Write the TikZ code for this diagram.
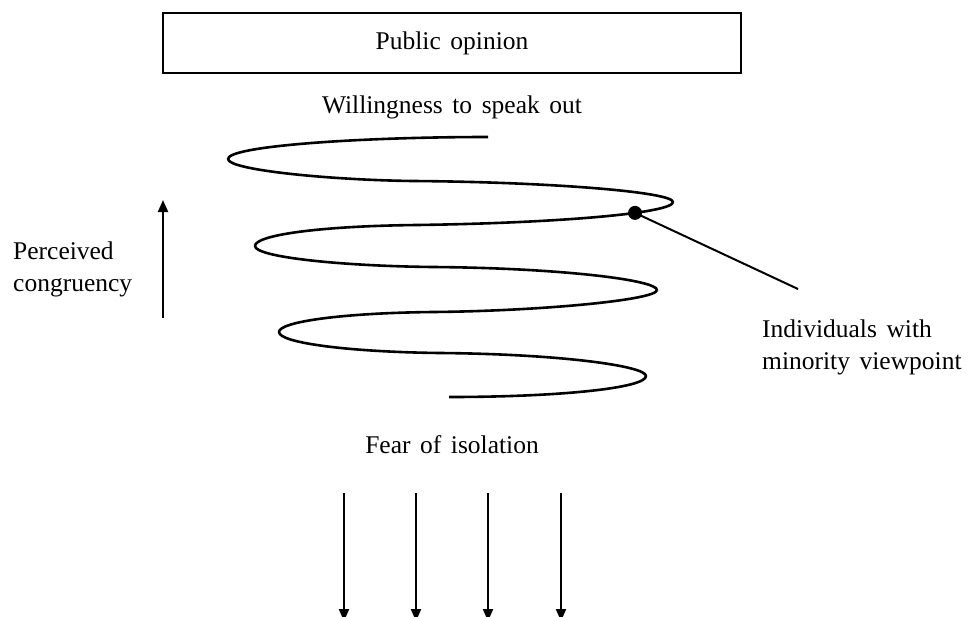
\documentclass[tikz,border=0pt]{standalone}
\usepackage{fontspec}
\setmainfont[WordSpace=1.5]{Liberation Serif}
\usetikzlibrary{arrows.meta}
\begin{document}
\begin{tikzpicture}[x=1pt,y=-1pt,
  lbl/.style={font=\fontsize{25.5}{32}\selectfont, inner sep=0pt},
  coil/.style={line width=2.6pt, line join=round},
  arr/.style={line width=2pt, -{Triangle[length=12pt,width=10pt]}}]
\useasboundingbox (0,0) rectangle (968,616);

% top box
\node[draw, line width=2.4pt, minimum width=578pt, minimum height=60pt,
      inner sep=0pt, lbl] (pub) at (452,43) {Public opinion};
\node[lbl] (will) at (452,107) {Willingness to speak out};

% the spiral of silence
\draw[coil] (488,137)
  .. controls (360,137) and (228,146) .. (228,159)
  .. controls (228,170) and (330,180) .. (413,181)
  .. controls (550,182) and (673,192) .. (673,202)
  .. controls (673,213) and (560,223) .. coordinate[pos=0.35] (dot) (417,225)
  .. controls (320,226) and (255,235) .. (255,246)
  .. controls (255,257) and (340,266) .. (433,267)
  .. controls (560,268) and (657,280) .. (657,290)
  .. controls (657,300) and (540,311) .. (433,312)
  .. controls (340,313) and (279,322) .. (279,332)
  .. controls (279,343) and (350,352) .. (440,353)
  .. controls (560,354) and (646,366) .. (646,376)
  .. controls (646,388) and (560,397) .. (449,397);

% minority individual marker and its label
\fill (dot) circle (7pt);
\coordinate (tip) at (798,289);
\draw[line width=2pt] (dot) -- (tip);
\node[lbl, anchor=west, align=left] (minor) at (762,347)
  {Individuals with\\minority viewpoint};

% perceived congruency axis
\node[lbl, anchor=west, align=left] (cong) at (13,269)
  {Perceived\\congruency};
\coordinate (c0) at (163,318);
\coordinate (c1) at (163,200);
\draw[arr] (c0) -- (c1);

% fear of isolation pressure
\node[lbl] (fear) at (452,445) {Fear of isolation};
\foreach \x [count=\i] in {344,416,488,561} {
  \coordinate (f\i a) at (\x,493);
  \coordinate (f\i b) at (\x,621);
  \draw[arr] (f\i a) -- (f\i b);
}
\end{tikzpicture}
\end{document}
